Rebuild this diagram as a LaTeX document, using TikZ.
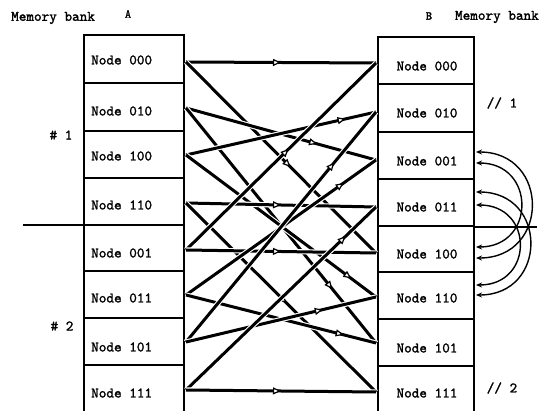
\documentclass[tikz,border=0pt]{standalone}
\usepackage{fontspec}
\newfontfamily\twfont{lmmono10-regular}[Extension=.otf, FakeBold=1.6]
\usetikzlibrary{arrows.meta,decorations.markings}
\begin{document}
\begin{tikzpicture}[x=1pt,y=-1pt,
  txt/.style={font=\twfont\fontsize{14.5}{16}\selectfont, inner sep=0pt},
  small/.style={font=\twfont\fontsize{12}{14}\selectfont, inner sep=0pt},
  boxline/.style={line width=1.7pt},
  conn/.style={line width=3pt, preaction={draw=white, line width=5.2pt},
    postaction={decorate},
    decoration={markings, mark=at position #1 with {\arrow{Triangle[length=8pt,width=7pt,fill=white,line width=1.2pt]}}}},
  arcc/.style={line width=1.4pt, {Stealth[length=6pt,width=5pt]}-{Stealth[length=6pt,width=5pt]}}
]
\useasboundingbox (0,0) rectangle (540,411);

% columns
\draw[boxline] (84,411) -- (84,35) -- (184,35) -- (184,411);
\foreach \y in {83,131,178,225,271,318,365} \draw[boxline] (84,\y) -- (184,\y);
\draw[boxline] (378,411) -- (378,37) -- (474,37) -- (474,411);
\foreach \y in {84,132,179,226,272,319,366} \draw[boxline] (378,\y) -- (474,\y);

% bank separators
\draw[boxline] (23,225) -- (84,225);
\draw[boxline] (474,227) -- (537,227);

% texts left
\foreach \n/\y in {000/60,010/111,100/156,110/205,001/253,011/298,101/347,111/393}
  \node[txt, anchor=west] (L\n) at (91,\y) {Node \n};
% texts right
\foreach \n/\y in {000/66,010/113,001/161,011/207,100/254,110/298,101/348,111/393}
  \node[txt] (R\n) at (427,\y) {Node \n};

% labels
\node[txt, anchor=west] (mbA) at (11,18) {Memory bank};
\node[small] (lA) at (128,14) {A};
\node[small] (lB) at (429,16) {B};
\node[txt, anchor=east] (mbB) at (539,17) {Memory bank};
\node[txt] (h1) at (61,135) {\# 1};
\node[txt] (h2) at (62,326) {\# 2};
\node[txt] (s1) at (502,103) {// 1};
\node[txt] (s2) at (502,388) {// 2};

% connection end points
\foreach \n/\y in {000/62,010/108,100/155,110/203,001/250,011/295,101/342,111/390}
  \coordinate (a\n) at (186,\y);
\foreach \n/\y in {000/63,010/112,001/160,011/207,100/253,110/297,101/343,111/392}
  \coordinate (b\n) at (376,\y);

\foreach \s/\t/\p in {000/000/0.5, 000/100/0.55, 010/001/0.69, 010/101/0.77,
  100/010/0.84, 100/110/0.87, 110/011/0.5, 110/111/0.53,
  001/000/0.54, 001/100/0.5, 011/001/0.83, 011/101/0.83,
  101/010/0.78, 101/110/0.72, 111/011/0.84, 111/111/0.5}
  \draw[conn=\p] (a\s) -- (b\t);

% exchange arcs on the right
\foreach \n/\y in {1/152,2/163,3/192,4/205,5/247,6/258,7/285,8/295}
  \coordinate (e\n) at (476,\y);
\draw[arcc] (e1) .. controls +(74,0) and +(74,0) .. (e6);
\draw[arcc] (e2) .. controls +(60,0) and +(60,0) .. (e5);
\draw[arcc] (e3) .. controls +(72,0) and +(72,0) .. (e8);
\draw[arcc] (e4) .. controls +(58,0) and +(58,0) .. (e7);
\end{tikzpicture}
\end{document}
